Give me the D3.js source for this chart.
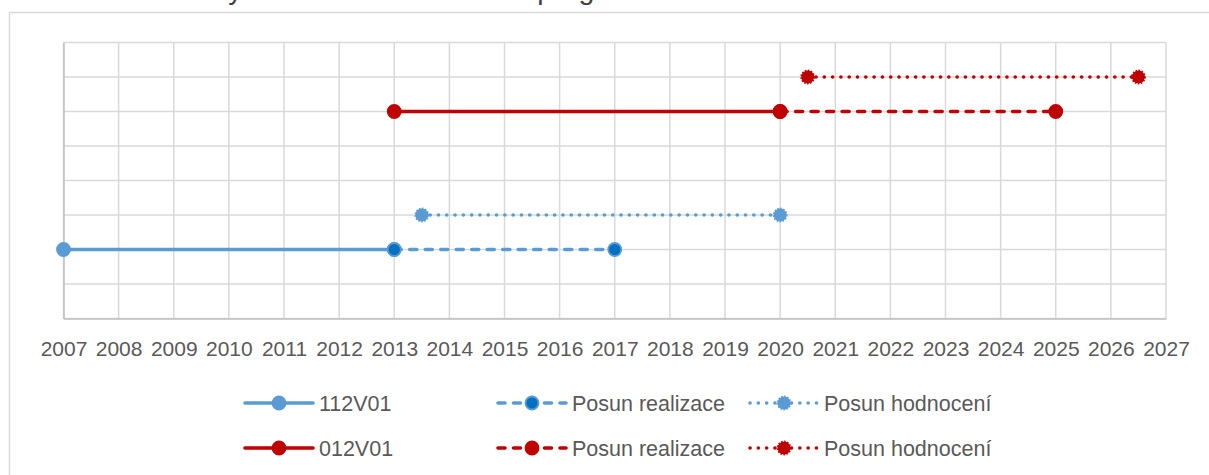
<!DOCTYPE html>
<html>
<head>
<meta charset="utf-8">
<script src="https://cdn.jsdelivr.net/npm/d3@7"></script>
<style>
  body { margin: 0; background: #fff; }
  text { font-family: "Liberation Sans", Arial, sans-serif; fill: #595959; }
</style>
</head>
<body>
<script>
// chart values
var titleText = "Doby realizace a hodnocení programů";
var tickYears = [2007,2008,2009,2010,2011,2012,2013,2014,2015,2016,2017,2018,2019,2020,2021,2022,2023,2024,2025,2026,2027];
var seriesNames = ["112V01","Posun realizace","Posun hodnocení","012V01","Posun realizace","Posun hodnocení"];
var startYears = [2007, 2013, 2013.5, 2013, 2020, 2020.5];
var endYears   = [2013, 2017, 2020,   2020, 2025, 2026.5];
var levels     = [2, 2, 3, 6, 6, 7];

var width = 1209, height = 475;
var lineColors   = ["#5B9BD5","#5B9BD5","#5B9BD5","#C00000","#C00000","#C00000"];
var markerColors = ["#5B9BD5","#0070C0","#5B9BD5","#C00000","#C00000","#C00000"];
var styles = ["solid","dash","dot","solid","dash","dot"];
var dashes = { solid: null, dash: "7,8.5", dot: "0.1,8.2" };
var markerDash = { solid: null, dash: null, dot: "1.5,1.5" };

var svg = d3.select('body').append('svg')
            .attr('width', width)
            .attr('height', height);

// outer chart border (runs off the right/bottom edges)
svg.append('rect')
   .attr('x', 9.5).attr('y', 12.5)
   .attr('width', 1400).attr('height', 700)
   .attr('fill', 'none').attr('stroke', '#D9D9D9').attr('stroke-width', 1.5);

// title, clipped by the top of the image like in the original
svg.append('text')
   .attr('x', 176).attr('y', -1)
   .style('font-size', '28.5px')
   .style('fill', '#404040')
   .text(titleText);

var x = d3.scaleLinear().domain([2007, 2027]).range([63.5, 1166]);
var y = d3.scaleLinear().domain([0, 8]).range([318.5, 42.5]);

var chartGroup = svg.append('g');

// grid
chartGroup.append('g').selectAll('line.v')
  .data(tickYears).enter().append('line')
  .attr('x1', function(d){ return x(d); }).attr('x2', function(d){ return x(d); })
  .attr('y1', y(0)).attr('y2', y(8))
  .attr('stroke', '#D9D9D9').attr('stroke-width', 1.5);
chartGroup.append('g').selectAll('line.h')
  .data(d3.range(0, 9)).enter().append('line')
  .attr('x1', x(2007)).attr('x2', x(2027))
  .attr('y1', function(d){ return y(d); }).attr('y2', function(d){ return y(d); })
  .attr('stroke', '#D9D9D9').attr('stroke-width', 1.5);

// axes
var xAxis = d3.axisBottom(x).tickValues(tickYears).tickFormat(d3.format('d')).tickSize(0).tickPadding(23);
var gx = chartGroup.append('g').attr('transform', 'translate(0,' + y(0) + ')').call(xAxis);
gx.select('.domain').attr('stroke', '#BFBFBF').attr('stroke-width', 1.5);
gx.selectAll('text').style('font-size', '21px').style('fill', '#595959');
var gy = chartGroup.append('g').attr('transform', 'translate(' + x(2007) + ',0)').call(d3.axisLeft(y).tickValues([]).tickSize(0));
gy.select('.domain').attr('stroke', '#BFBFBF').attr('stroke-width', 1.5);

// series
var line = d3.line().x(function(d){ return x(d[0]); }).y(function(d){ return y(d[1]); });

seriesNames.forEach(function(name, i) {
  var pts = [[startYears[i], levels[i]], [endYears[i], levels[i]]];
  chartGroup.append('path')
    .attr('d', line(pts))
    .attr('fill', 'none')
    .attr('stroke', lineColors[i])
    .attr('stroke-width', 3.6)
    .attr('stroke-linecap', 'round')
    .attr('stroke-dasharray', dashes[styles[i]]);
  chartGroup.selectAll(null).data(pts).enter().append('circle')
    .attr('cx', function(d){ return x(d[0]); })
    .attr('cy', function(d){ return y(d[1]); })
    .attr('r', 6.5)
    .attr('fill', markerColors[i])
    .attr('stroke', lineColors[i])
    .attr('stroke-width', 1.8)
    .attr('stroke-dasharray', markerDash[styles[i]]);
});

// legend
var legCols = [245, 498, 750];
var legRows = [403, 448];
var legend = svg.append('g');
seriesNames.forEach(function(name, i) {
  var lx = legCols[i % 3], ly = legRows[Math.floor(i / 3)];
  var g = legend.append('g').attr('transform', 'translate(' + lx + ',' + ly + ')');
  g.append('line')
    .attr('x1', 0).attr('x2', 68).attr('y1', 0).attr('y2', 0)
    .attr('stroke', lineColors[i]).attr('stroke-width', 3.6)
    .attr('stroke-linecap', 'round')
    .attr('stroke-dasharray', dashes[styles[i]]);
  g.append('circle')
    .attr('cx', 34).attr('cy', 0).attr('r', 6.5)
    .attr('fill', markerColors[i])
    .attr('stroke', lineColors[i]).attr('stroke-width', 1.8)
    .attr('stroke-dasharray', markerDash[styles[i]]);
  g.append('text')
    .attr('x', 74).attr('y', 7.5)
    .style('font-size', '21.5px')
    .text(name);
});
</script>
</body>
</html>
